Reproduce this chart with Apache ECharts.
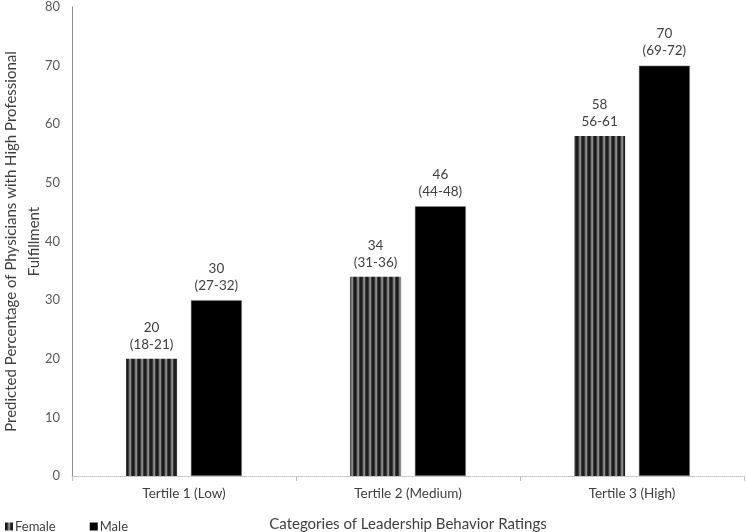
<!DOCTYPE html>
<html>
<head>
<meta charset="utf-8">
<script src="https://cdn.jsdelivr.net/npm/echarts@6/dist/echarts.min.js"></script>
<style>
  html, body { margin: 0; padding: 0; background: #fff; }
  #chart { width: 746px; height: 532px; }
</style>
</head>
<body>
<div id="chart"></div>
<script>
var categories = ['Tertile 1 (Low)', 'Tertile 2 (Medium)', 'Tertile 3 (High)'];
var femaleValues = [20, 34, 58];
var maleValues = [30, 46, 70];
var femaleCI = ['(18-21)', '(31-36)', '56-61'];
var maleCI = ['(27-32)', '(44-48)', '(69-72)'];
var yTicks = [0, 10, 20, 30, 40, 50, 60, 70, 80];

// vertical stripe fill for the female bars
function stripes() {
  var c = document.createElement('canvas');
  c.width = 6; c.height = 6;
  var ctx = c.getContext('2d');
  var cols = ['#1c1c1c', '#1c1c1c', '#3a3a3a', '#7a7a7a', '#8c8c8c', '#3a3a3a'];
  for (var i = 0; i < cols.length; i++) {
    ctx.fillStyle = cols[i];
    ctx.fillRect(i, 0, 1, 6);
  }
  return c;
}
var stripeFill = { image: stripes(), repeat: 'repeat' };

var chartDom = document.getElementById('chart');
var myChart = echarts.init(chartDom);
var font = 'Lato, "Open Sans", sans-serif';

function makeLabel(ci) {
  return {
    show: true,
    position: 'top',
    distance: 6,
    color: '#404040',
    fontFamily: font,
    fontSize: 13.5,
    lineHeight: 17,
    formatter: function (p) { return p.value + '\n' + ci[p.dataIndex]; }
  };
}

var option = {
  animation: false,
  textStyle: { fontFamily: font },
  grid: { left: 72, right: 2, top: 7, bottom: 56, outerBoundsMode: 'none', containLabel: false },
  legend: {
    left: 0,
    bottom: -6,
    itemWidth: 8,
    itemHeight: 8,
    itemGap: 34,
    icon: 'rect',
    textStyle: { color: '#404040', fontSize: 13, fontFamily: font, padding: [0, 0, 0, -3] },
    data: [
      { name: 'Female' },
      { name: 'Male', itemStyle: { borderWidth: 0 } }
    ]
  },
  xAxis: {
    type: 'category',
    data: categories,
    name: 'Categories of Leadership Behavior Ratings',
    nameLocation: 'middle',
    nameGap: 41,
    nameMoveOverlap: false,
    nameTextStyle: { color: '#404040', fontSize: 15, fontFamily: font },
    axisLine: { lineStyle: { color: '#bfbfbf', type: 'dotted', width: 1 } },
    axisTick: { show: true, length: 5, lineStyle: { color: '#bfbfbf' } },
    axisLabel: { color: '#404040', fontSize: 13.5, margin: 11, fontFamily: font }
  },
  yAxis: {
    type: 'value',
    min: yTicks[0],
    max: yTicks[yTicks.length - 1],
    interval: 10,
    name: 'Predicted Percentage of Physicians with High Professional\nFulfillment',
    nameLocation: 'middle',
    nameGap: 26,
    nameMoveOverlap: false,
    nameTextStyle: { color: '#404040', fontSize: 15, lineHeight: 23, fontFamily: font },
    axisLine: { show: true, lineStyle: { color: '#8c8c8c', width: 1 } },
    axisTick: { show: false },
    splitLine: { show: false },
    axisLabel: { color: '#595959', fontSize: 13, margin: 12, fontFamily: font }
  },
  series: [
    {
      name: 'Female',
      type: 'bar',
      data: femaleValues,
      barWidth: 51,
      barGap: '27%',
      itemStyle: { color: stripeFill },
      label: makeLabel(femaleCI)
    },
    {
      name: 'Male',
      type: 'bar',
      data: maleValues,
      barWidth: 51,
      barGap: '27%',
      itemStyle: { color: '#000000', borderColor: '#8c8c8c', borderWidth: 0.5 },
      label: makeLabel(maleCI)
    }
  ]
};

option && myChart.setOption(option);
</script>
</body>
</html>
